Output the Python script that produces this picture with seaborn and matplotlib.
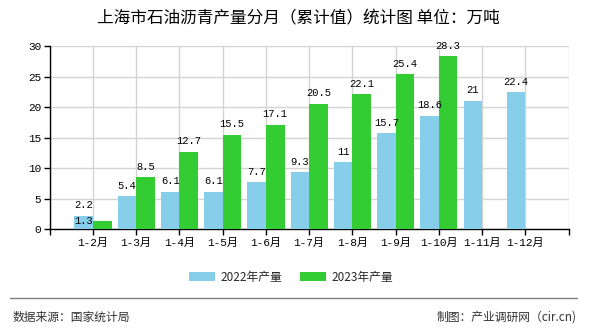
import numpy as np
import pandas as pd
import matplotlib
matplotlib.use("Agg")
import matplotlib.pyplot as plt
import seaborn as sns
from matplotlib.lines import Line2D
from matplotlib.patches import Patch

months = ["1-2月", "1-3月", "1-4月", "1-5月", "1-6月", "1-7月", "1-8月",
          "1-9月", "1-10月", "1-11月", "1-12月"]
prod_2022 = [2.2, 5.4, 6.1, 6.1, 7.7, 9.3, 11, 15.7, 18.6, 21, 22.4]
prod_2023 = [1.3, 8.5, 12.7, 15.5, 17.1, 20.5, 22.1, 25.4, 28.3, np.nan, np.nan]
series_names = ["2022年产量", "2023年产量"]
colors = ["#87CEEB", "#33CC33"]
yticks = [0, 5, 10, 15, 20, 25, 30]
title = "上海市石油沥青产量分月（累计值）统计图 单位：万吨"
source_text = "数据来源：国家统计局"
credit_text = "制图：产业调研网（cir.cn)"

df = pd.DataFrame({
    "month": months * 2,
    "value": prod_2022 + prod_2023,
    "series": [series_names[0]] * len(months) + [series_names[1]] * len(months),
})

sns.set_theme(style="white")
plt.rcParams["font.family"] = ["Noto Sans CJK SC", "DejaVu Sans"]
mono = ["Liberation Mono", "Noto Sans CJK SC"]

fig = plt.figure(figsize=(5.9, 3.3), dpi=100)
ax = fig.add_axes([49.7 / 590, 1 - 229.3 / 330, (568.6 - 49.7) / 590, (229.3 - 46) / 330])

sns.barplot(data=df, x="month", y="value", hue="series", order=months,
            hue_order=series_names, palette=colors, width=0.86, gap=0,
            saturation=1, ax=ax, legend=False, zorder=3, linewidth=0,
            edgecolor="none")

ax.set_xlim(-1, len(months))
ax.set_ylim(0, 30)
ax.set_xticks(range(-1, len(months) + 1))
ax.set_xticklabels([""] + months + [""], fontsize=8, family=mono, color="black")
ax.set_yticks(yticks)
ax.set_yticklabels([str(v) for v in yticks], fontsize=8, family=mono, color="black")
ax.set_xlabel("")
ax.set_ylabel("")
ax.grid(True, color="#d3d3d3", lw=1, zorder=0)
ax.set_axisbelow(True)
for s in ["top", "right"]:
    ax.spines[s].set_visible(False)
for s in ["left", "bottom"]:
    ax.spines[s].set_color("black")
    ax.spines[s].set_linewidth(1)
ax.tick_params(axis="both", which="both", direction="out", length=4, width=1,
               color="black", pad=2, bottom=True, left=True)

# value labels
c0, c1 = ax.containers[0], ax.containers[1]
for i, bar in enumerate(c0):
    h = bar.get_height()
    if np.isnan(h):
        continue
    ax.annotate(f"{h:g}", (bar.get_x() + bar.get_width() / 2, h),
                xytext=(0, 4), textcoords="offset points", ha="center", va="bottom",
                fontsize=7.5, family=mono, color="black", zorder=5)
for i, bar in enumerate(c1):
    h = bar.get_height()
    if np.isnan(h):
        continue
    if i == 0:
        b0 = c0[0]
        ax.annotate(f"{h:g}", (b0.get_x() + b0.get_width() / 2, h),
                    ha="center", va="center", fontsize=7.5, family=mono,
                    color="black", zorder=5)
    else:
        ax.annotate(f"{h:g}", (bar.get_x() + bar.get_width() / 2, h),
                    xytext=(0, 4), textcoords="offset points", ha="center", va="bottom",
                    fontsize=7.5, family=mono, color="black", zorder=5)

fig.text(0.505, 1 - 19 / 330, title, ha="center", va="center", fontsize=12, color="black")

handles = [Patch(facecolor=c, edgecolor="none") for c in colors]
fig.legend(handles, series_names, loc="center", bbox_to_anchor=(291 / 590, 1 - 277 / 330),
           ncol=2, frameon=False, fontsize=8.5, handlelength=2.2, handleheight=0.9,
           columnspacing=1.5, handletextpad=0.5)

fig.add_artist(Line2D([10 / 590, 577 / 590], [1 - 298 / 330] * 2, color="#808080", lw=1))
fig.text(13 / 590, 1 - 317 / 330, source_text, ha="left", va="center", fontsize=8.5, color="#333333")
fig.text(577 / 590, 1 - 317 / 330, credit_text, ha="right", va="center", fontsize=8.5, color="#333333")

fig.savefig("out.png", dpi=100)
